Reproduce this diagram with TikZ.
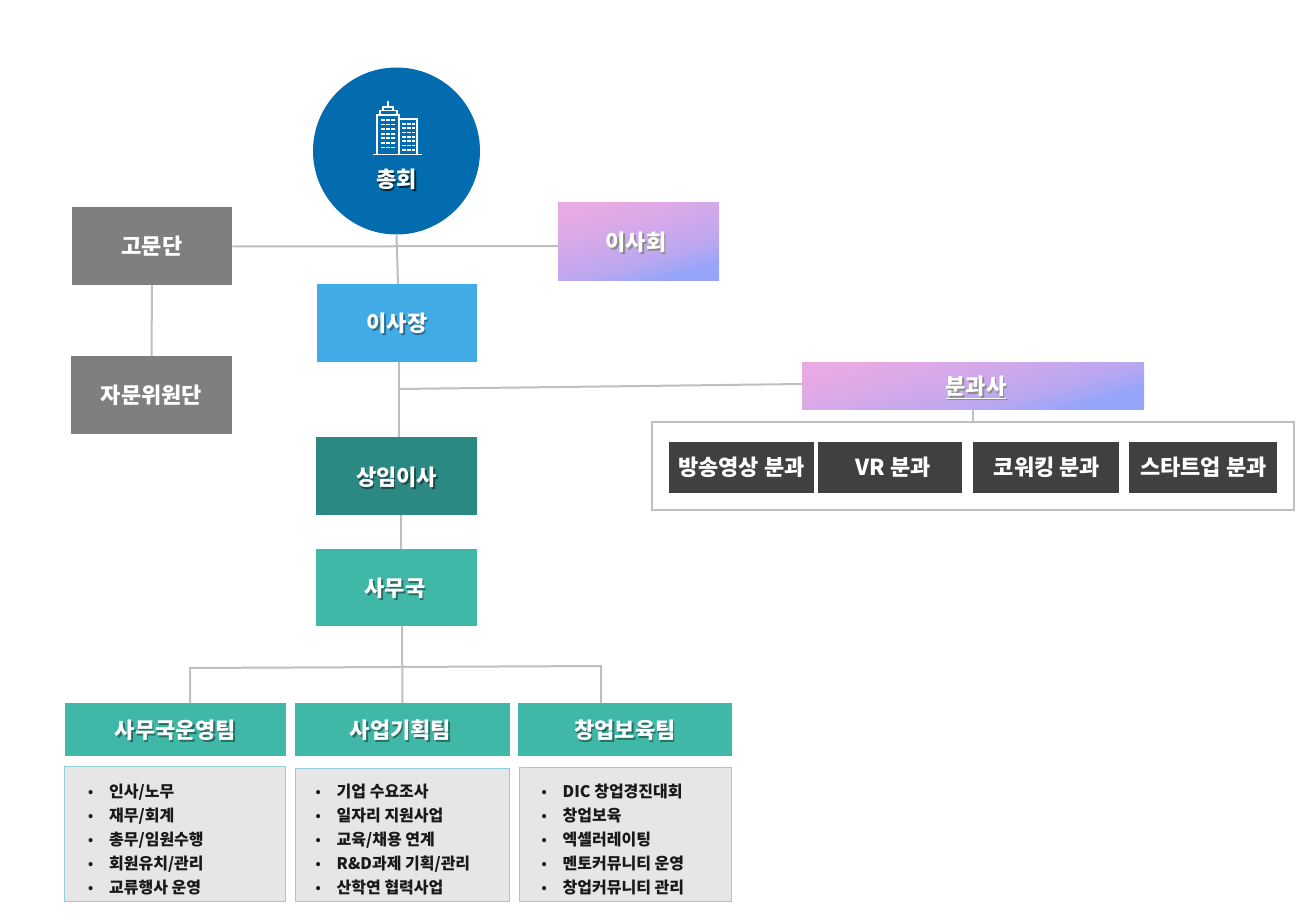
\documentclass[tikz,border=0pt]{standalone}
\usepackage{fontspec}
\setmainfont{Noto Sans CJK KR}
\usetikzlibrary{calc}
\definecolor{linec}{HTML}{BFBFBF}
\definecolor{grayc}{HTML}{7F7F7F}
\definecolor{bluec}{HTML}{41ABE6}
\definecolor{deepc}{HTML}{2B8984}
\definecolor{tealc}{HTML}{40B8A8}
\definecolor{navyc}{HTML}{036CAE}
\definecolor{darkc}{HTML}{404040}
\definecolor{listc}{HTML}{E6E6E6}
\definecolor{listb}{HTML}{92CDDC}
\definecolor{pinkc}{HTML}{E8AAE4}
\definecolor{periw}{HTML}{96A5FA}
\pgfdeclarehorizontalshading{pinkblue}{100bp}{color(0bp)=(pinkc); color(26bp)=(pinkc); color(45bp)=(pinkc!72!periw); color(60bp)=(pinkc!45!periw); color(72bp)=(periw); color(100bp)=(periw)}
\newcommand{\sh}[2][black!55]{\raisebox{-9pt}[0pt][0pt]{\rlap{\hspace{1.5pt}\raisebox{-1.5pt}{\textcolor{#1}{#2}}}#2}}
\newcommand{\tx}[1]{\raisebox{-8pt}[0pt][0pt]{#1}}
\newcommand{\dx}[1]{\hspace*{#1}}
\newcommand{\li}[1]{\makebox[21pt][l]{\raisebox{1.6pt}{\fontsize{13}{13}\selectfont\textbullet}}#1\\}
\tikzset{
  x=1pt,y=-1pt,
  box/.style={inner sep=0pt,outer sep=0pt,text=white,font=\fontsize{22}{26}\selectfont\bfseries,align=center},
  wire/.style={draw=linec,line width=2pt},
  grayb/.style={box,fill=grayc,minimum width=160.5pt,minimum height=78pt},
  mainb/.style={box,minimum width=160.5pt,minimum height=78pt},
  gradb/.style={box,shading=pinkblue,shading angle=-74},
  darkb/.style={box,fill=darkc,minimum height=51pt},
  teamb/.style={box,fill=tealc,minimum height=53pt},
  listbox/.style={inner sep=0pt,outer sep=0pt,fill=listc,draw=listb,line width=1.2pt},
  listtext/.style={inner sep=0pt,anchor=north west,align=left,text=black!90,font=\fontsize{16}{24}\selectfont\bfseries},
  icon/.style={draw=white,line width=1.2pt},
  win/.style={draw=white,line width=1.8pt,dash pattern=on 4pt off 1pt}
}
\begin{document}
\begin{tikzpicture}
\useasboundingbox (0,0) rectangle (1312,917);
% nodes
\node[circle,fill=navyc,minimum size=167pt,inner sep=0pt,outer sep=0pt] (assembly) at (396.5,151) {};
\node[box] (assemblyt) at (396.5,179) {\sh[black!65!navyc]{총회}};
\node[grayb] (advise) at (152,246) {\sh[black!50]{고문단}};
\node[grayb] (consult) at (151.5,395) {\sh[black!50]{자문위원단}};
\node[gradb,minimum width=161pt,minimum height=78pt] (board) at (638.5,242) {\dx{-5pt}\sh[black!45]{이사회}};
\node[mainb,fill=bluec] (chair) at (397,323) {\sh[black!35!bluec]{이사장}};
\node[mainb,fill=deepc] (exec) at (396.5,476) {\raisebox{-1pt}{\sh[black!45!deepc]{상임이사}}};
\node[mainb,fill=tealc,minimum height=77pt] (office) at (396.5,587.5) {\dx{-3pt}\sh[black!40!tealc]{사무국}};
\node[gradb,minimum width=342pt,minimum height=47pt] (branch) at (973,385.5) {\dx{6pt}\sh[black!45]{\underline{분과사}}};
\node[draw=linec,line width=2pt,inner sep=0pt,outer sep=0pt,minimum width=642pt,minimum height=88pt] (frame) at (973,466) {};
\node[darkb,minimum width=145pt] (d1) at (741.5,467.5) {\tx{방송영상 분과}};
\node[darkb,minimum width=144pt] (d2) at (890,467.5) {\dx{6pt}\tx{VR 분과}};
\node[darkb,minimum width=146pt] (d3) at (1046,467.5) {\dx{2pt}\tx{코워킹 분과}};
\node[darkb,minimum width=148pt] (d4) at (1203,467.5) {\dx{1pt}\tx{스타트업 분과}};
\node[teamb,minimum width=221pt] (team1) at (175.5,729.5) {\sh[black!40!tealc]{사무국운영팀}};
\node[teamb,minimum width=215pt] (team2) at (402.5,729.5) {\dx{-4pt}\sh[black!40!tealc]{사업기획팀}};
\node[teamb,minimum width=214pt] (team3) at (625,729.5) {\sh[black!40!tealc]{창업보육팀}};
\node[listbox,minimum width=221pt,minimum height=135pt] (list1) at (175,834) {};
\node[listbox,minimum width=214pt,minimum height=133pt] (list2) at (402.5,835) {};
\node[listbox,minimum width=212pt,minimum height=134pt] (list3) at (625.5,834.5) {};
\node[listtext] (l1) at (88,784) {\li{인사/노무}\li{재무/회계}\li{총무/임원수행}\li{회원유치/관리}\li{교류행사 운영}};
\node[listtext] (l2) at (315.5,784) {\li{기업 수요조사}\li{일자리 지원사업}\li{교육/채용 연계}\li{R\&D과제 기획/관리}\li{산학연 협력사업}};
\node[listtext] (l3) at (541.5,784) {\li{DIC 창업경진대회}\li{창업보육}\li{엑셀러레이팅}\li{멘토커뮤니티 운영}\li{창업커뮤니티 관리}};
% connectors
\coordinate (j1) at (399,389);
\coordinate (b1) at (190,668);
\coordinate (b3) at (601,666);
\draw[wire] ([yshift=-0.5pt]advise.east) -- ([yshift=-4pt]board.west);
\draw[wire] (assembly.south) -- ([xshift=1pt]chair.north);
\draw[wire] (advise.south) -- (consult.north);
\draw[wire] ([xshift=2pt]chair.south) -- ([xshift=2.5pt]exec.north);
\draw[wire] (j1) -- ([yshift=1.5pt]branch.west);
\draw[wire] ([xshift=4.5pt]exec.south) -- ([xshift=4.5pt]office.north);
\draw[wire] ([xshift=5.5pt]office.south) -- (team2.north);
\draw[wire] ([xshift=14.5pt]team1.north) -- (b1) -- (b3) -- ([xshift=-24pt]team3.north);
\draw[wire] (branch.south) -- (frame.north);
% building icon
\draw[icon] (372.5,154.5) -- (422,154.5);
\draw[icon] (377,154.5) -- (377,115) -- (399,115) -- (399,154.5);
\draw[icon] (399,119) -- (417,119) -- (417,154.5);
\draw[icon] (380,115) -- (380,110.5) -- (397,110.5) -- (397,115);
\draw[icon] (383,110.5) -- (383,107) -- (393,107) -- (393,110.5);
\draw[icon] (388,107) -- (388,101);
\foreach \r in {0,...,6}{
  \draw[win] (381,{120+\r*4.6}) -- (396,{120+\r*4.6});
  \draw[win] (402,{124+\r*4.3}) -- (415,{124+\r*4.3});
}
\end{tikzpicture}
\end{document}
